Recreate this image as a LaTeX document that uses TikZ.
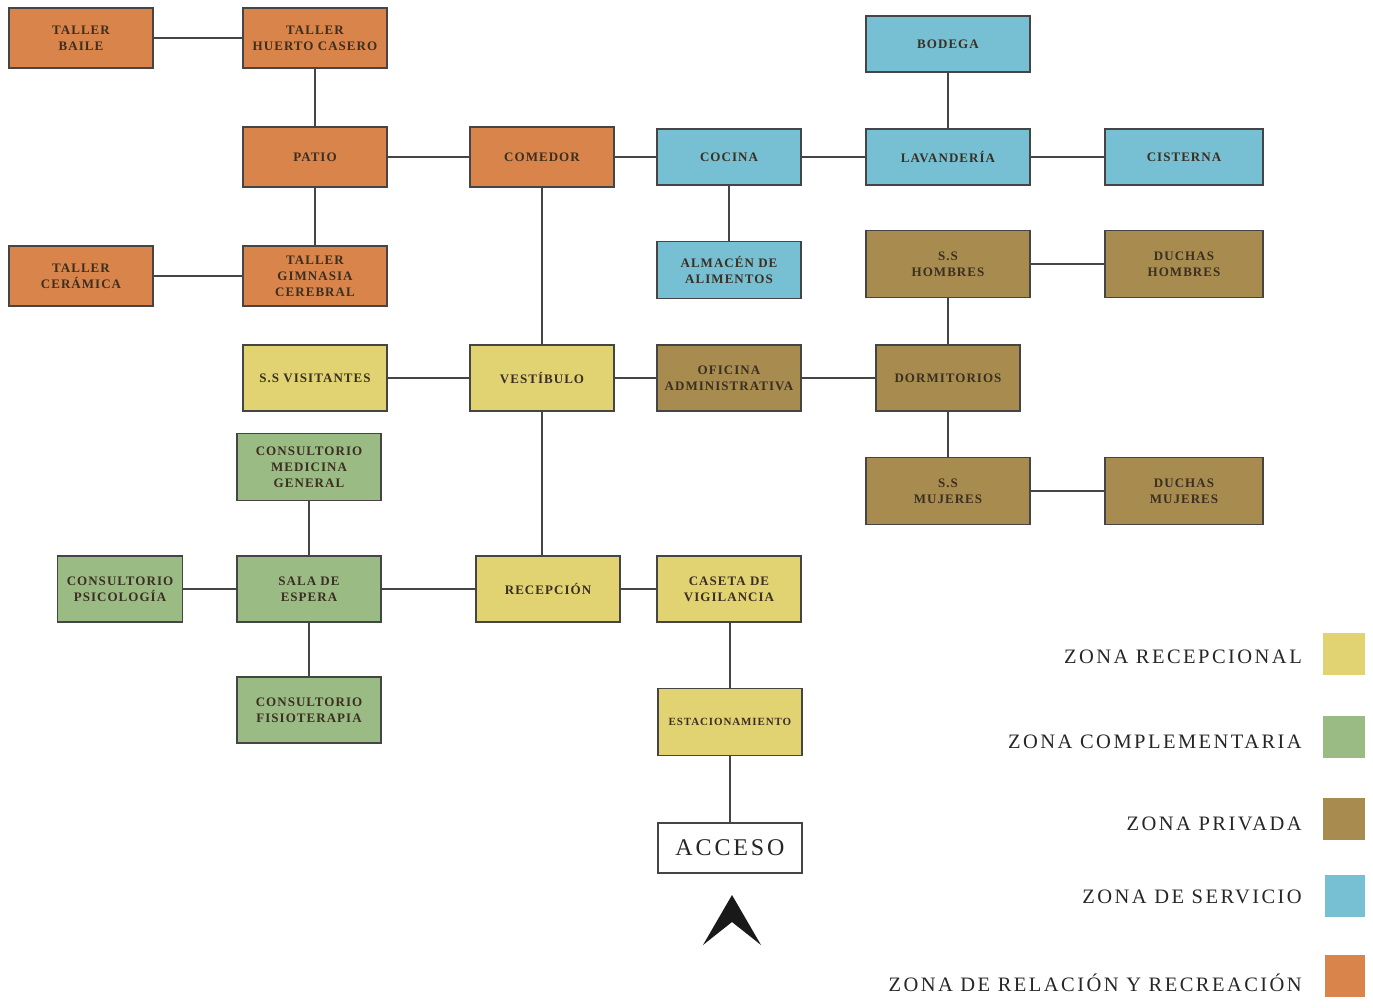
\documentclass[tikz,border=0pt]{standalone}
\usepackage{fontspec}
\setmainfont{Liberation Serif}
\newfontfamily\boxfont[LetterSpace=8]{Liberation Serif}
\newfontfamily\legfont[LetterSpace=12]{Liberation Serif}

\definecolor{recepcional}{HTML}{E2D372}
\definecolor{complementaria}{HTML}{9BBB84}
\definecolor{privada}{HTML}{A88B4E}
\definecolor{servicio}{HTML}{77BFD3}
\definecolor{relacion}{HTML}{D9844A}
\definecolor{linea}{HTML}{454545}
\definecolor{letra}{HTML}{3A2F22}

\tikzset{
  zona/.style={draw=linea, line width=1.4pt, minimum width=144pt, minimum height=60pt,
    inner sep=0pt, align=center, text=letra,
    font=\boxfont\bfseries\fontsize{13}{16}\selectfont},
  rel/.style={zona, fill=relacion},
  ser/.style={zona, fill=servicio},
  pri/.style={zona, fill=privada},
  rec/.style={zona, fill=recepcional},
  com/.style={zona, fill=complementaria},
  leyenda/.style={anchor=east, inner sep=0pt, text=black!85,
    font=\legfont\fontsize{20.5}{21}\selectfont},
  muestra/.style={minimum width=42pt, minimum height=42pt, inner sep=0pt}
}

\begin{document}
\begin{tikzpicture}[x=1pt,y=-1pt]
\useasboundingbox (0,0) rectangle (1373,1008);

% zona de relacion y recreacion
\node [rel] (baile) at (81,38) {TALLER\\BAILE};
\node [rel] (huerto) at (315,38) {TALLER\\HUERTO CASERO};
\node [rel] (patio) at (315,157) {PATIO};
\node [rel] (ceramica) at (81,276) {TALLER\\CERÁMICA};
\node [rel] (gimnasia) at (315,276) {TALLER\\GIMNASIA\\CEREBRAL};
\node [rel] (comedor) at (542,157) {COMEDOR};

% zona de servicio
\node [ser, minimum height=56pt] (cocina) at (729,157) {COCINA};
\node [ser, minimum width=164pt, minimum height=56pt] (bodega) at (948,44) {BODEGA};
\node [ser, minimum width=164pt, minimum height=56pt] (lavanderia) at (948,157) {LAVANDERÍA};
\node [ser, minimum width=158pt, minimum height=56pt] (cisterna) at (1184,157) {CISTERNA};
\node [ser, minimum height=57pt] (almacen) at (729,270) {ALMACÉN DE\\ALIMENTOS};

% zona privada
\node [pri, minimum width=164pt, minimum height=67pt] (sshombres) at (948,264) {S.S\\HOMBRES};
\node [pri, minimum width=158pt, minimum height=67pt] (duchash) at (1184,264) {DUCHAS\\HOMBRES};
\node [pri, minimum height=66pt] (oficina) at (729,378) {OFICINA\\ADMINISTRATIVA};
\node [pri, minimum height=66pt] (dormitorios) at (948,378) {DORMITORIOS};
\node [pri, minimum width=164pt, minimum height=67pt] (ssmujeres) at (948,491) {S.S\\MUJERES};
\node [pri, minimum width=158pt, minimum height=67pt] (duchasm) at (1184,491) {DUCHAS\\MUJERES};

% zona recepcional
\node [rec, minimum height=66pt] (ssvisit) at (315,378) {S.S VISITANTES};
\node [rec, minimum height=66pt] (vestibulo) at (542,378) {VESTÍBULO};
\node [rec, minimum height=66pt] (recepcion) at (548,589) {RECEPCIÓN};
\node [rec, minimum height=66pt] (caseta) at (729,589) {CASETA DE\\VIGILANCIA};
\node [rec, minimum height=67pt, font=\boxfont\bfseries\fontsize{11}{14}\selectfont] (estacion) at (730,722) {ESTACIONAMIENTO};

% zona complementaria
\node [com, minimum height=67pt] (medicina) at (309,467) {CONSULTORIO\\MEDICINA\\GENERAL};
\node [com, minimum width=125pt, minimum height=66pt] (psicologia) at (120,589) {CONSULTORIO\\PSICOLOGÍA};
\node [com, minimum height=66pt] (espera) at (309,589) {SALA DE\\ESPERA};
\node [com, minimum height=66pt] (fisio) at (309,710) {CONSULTORIO\\FISIOTERAPIA};

% acceso
\node [zona, fill=white, minimum height=50pt, text=black!85,
  font=\legfont\fontsize{24}{24}\selectfont] (acceso) at (730,848) {ACCESO};
\coordinate (punta) at (732,895);
\fill [black!90] (punta) -- (761,945) -- (732,922) -- (703,945) -- cycle;

% conexiones
\draw [linea, line width=1.4pt] (baile) -- (huerto);
\draw [linea, line width=1.4pt] (huerto) -- (patio);
\draw [linea, line width=1.4pt] (patio) -- (gimnasia);
\draw [linea, line width=1.4pt] (ceramica) -- (gimnasia);
\draw [linea, line width=1.4pt] (patio) -- (comedor);
\draw [linea, line width=1.4pt] (comedor) -- (cocina);
\draw [linea, line width=1.4pt] (cocina) -- (lavanderia);
\draw [linea, line width=1.4pt] (lavanderia) -- (cisterna);
\draw [linea, line width=1.4pt] (bodega) -- (lavanderia);
\draw [linea, line width=1.4pt] (cocina) -- (almacen);
\draw [linea, line width=1.4pt] (comedor) -- (vestibulo);
\draw [linea, line width=1.4pt] (ssvisit) -- (vestibulo);
\draw [linea, line width=1.4pt] (vestibulo) -- (oficina);
\draw [linea, line width=1.4pt] (oficina) -- (dormitorios);
\draw [linea, line width=1.4pt] (sshombres) -- (dormitorios);
\draw [linea, line width=1.4pt] (sshombres) -- (duchash);
\draw [linea, line width=1.4pt] (dormitorios) -- (ssmujeres);
\draw [linea, line width=1.4pt] (ssmujeres) -- (duchasm);
\draw [linea, line width=1.4pt] (vestibulo.south) -- (vestibulo.south |- recepcion.north);
\draw [linea, line width=1.4pt] (medicina) -- (espera);
\draw [linea, line width=1.4pt] (psicologia) -- (espera);
\draw [linea, line width=1.4pt] (espera) -- (recepcion);
\draw [linea, line width=1.4pt] (espera) -- (fisio);
\draw [linea, line width=1.4pt] (recepcion) -- (caseta);
\draw [linea, line width=1.4pt] (estacion.north) -- (estacion.north |- caseta.south);
\draw [linea, line width=1.4pt] (estacion) -- (acceso);

% leyenda
\node [muestra, fill=recepcional] (m1) at (1344,654) {};
\node [muestra, fill=complementaria] (m2) at (1344,737) {};
\node [muestra, fill=privada] (m3) at (1344,819) {};
\node [muestra, fill=servicio, minimum width=40pt] (m4) at (1345,896) {};
\node [muestra, fill=relacion, minimum width=40pt] (m5) at (1345,976) {};
\node [leyenda] (l1) at (1302,657) {ZONA RECEPCIONAL};
\node [leyenda] (l2) at (1302,742) {ZONA COMPLEMENTARIA};
\node [leyenda] (l3) at (1302,824) {ZONA PRIVADA};
\node [leyenda] (l4) at (1302,897) {ZONA DE SERVICIO};
\node [leyenda] (l5) at (1302,983) {ZONA DE RELACIÓN Y RECREACIÓN};
\end{tikzpicture}
\end{document}
